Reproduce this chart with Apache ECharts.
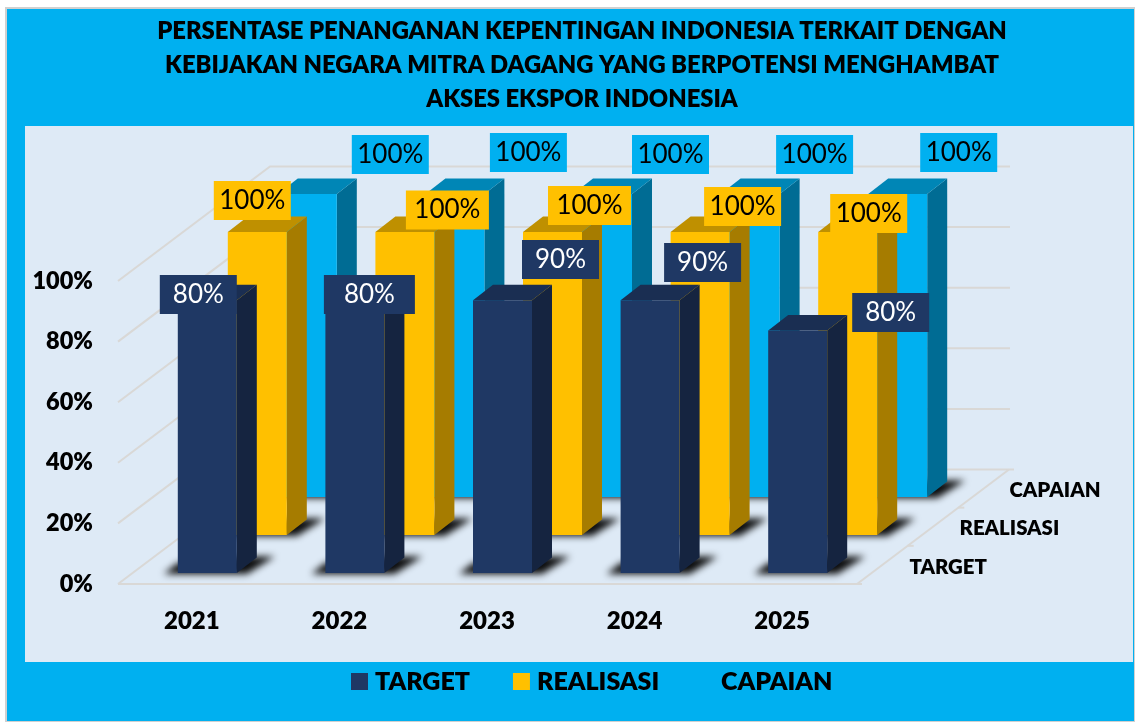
<!DOCTYPE html>
<html><head><meta charset="utf-8">
<style>html,body{margin:0;padding:0;background:#fff}#c{width:1135px;height:722px}</style>
<script src="https://cdn.jsdelivr.net/npm/echarts@6/dist/echarts.min.js"></script>
</head><body><div id="c"></div>
<script>
const years = ['2021','2022','2023','2024','2025'];
const yTicks = [0,20,40,60,80,100];
const rowNames = ['TARGET','REALISASI','CAPAIAN'];
// bar heights as drawn in the picture
const targetBars = [90,90,90,90,80];
const realisasiBars = [100,100,100,100,100];
const capaianBars = [100,100,100,100,100];
// printed values on the data labels
const targetLabels = ['80%','80%','90%','90%','80%'];
const realisasiLabels = ['100%','100%','100%','100%','100%'];
const capaianLabels = ['100%','100%','100%','100%','100%'];
const titleText = 'PERSENTASE PENANGANAN KEPENTINGAN INDONESIA TERKAIT DENGAN\nKEBIJAKAN NEGARA MITRA DAGANG YANG BERPOTENSI MENGHAMBAT\nAKSES EKSPOR INDONESIA';

// label box placement relative to the top of each value (hand placed in the original)
const targetLabelOff = [[6.5,-16.8,77],[30,-16.8,91],[73.5,-51.8,77],[68,-48.8,77],[108.5,-29.1,77]];
const realisasiLabelOff = [[60.5,-80.5,77],[108,-71,83],[102.5,-75.5,83],[108,-74.5,77],[86.5,-67.5,77]];
const capaianLabelOff = [[198.5,-126.5,77],[189,-128.5,77],[183.5,-126.5,77],[180,-126.5,77],[176.5,-128.5,77]];

const FONT = 'Lato';
const HEAVY = 800;
const BAR_W = 59, BAR_DX = 20, BAR_DY = -15.5;
const ROW_DX = 50, ROW_DY = -38, ROW0_DX = 15.5, ROW0_DY = -11;
const WALL_DX = 152, WALL_DY = -114.5;
const WALL_COL = '#D9D8D6';
const FAR = 3000;

function poly(points, fill, extra) {
  return Object.assign({type:'polygon', shape:{points}, style:Object.assign({fill}, extra||{})});
}

function barRenderer(row, labels, offs, cols, labelText) {
  return function (params, api) {
    const i = api.value(0), v = api.value(1);
    const top = api.coord([i, v]), base = api.coord([i, 0]);
    const cx = top[0] + ROW0_DX + ROW_DX * row;
    const shift = ROW0_DY + ROW_DY * row;
    const x0 = cx - BAR_W / 2, x1 = cx + BAR_W / 2;
    const yt = top[1] + shift, yb = base[1] + shift;
    const off = offs[i];
    const lx = top[0] + off[0], ly = top[1] + off[1];
    const shadowPts = [[x0-14,yb+1],[x1+10,yb+1],[x1+BAR_DX+18,yb+BAR_DY-1],[x1,yb+BAR_DY-1],[x0,yb-10]]
      .map(p => [p[0]-FAR, p[1]]);
    return {type:'group', children:[
      poly(shadowPts, '#000', {shadowBlur:7, shadowColor:'rgba(0,0,0,0.95)', shadowOffsetX:FAR}),
      poly([[x1,yt],[x1+BAR_DX,yt+BAR_DY],[x1+BAR_DX,yb+BAR_DY],[x1,yb]], cols.side),
      poly([[x0,yt],[x0+BAR_DX,yt+BAR_DY],[x1+BAR_DX,yt+BAR_DY],[x1,yt]], cols.top),
      {type:'rect', shape:{x:x0,y:yt,width:BAR_W,height:yb-yt}, style:{fill:cols.front}},
      {type:'rect', shape:{x:lx-off[2]/2,y:ly-19.5,width:off[2],height:39}, style:{fill:cols.front}},
      {type:'text', x:lx, y:ly, style:{text:labels[i], fill:labelText, font:'400 26px '+FONT, align:'center', verticalAlign:'middle'}}
    ]};
  };
}

const wallSeries = {
  type:'custom', name:'wall', coordinateSystem:'cartesian2d', silent:true, z:1,
  data: yTicks.map(t => [0, t]),
  encode:{x:0, y:1},
  renderItem(params, api) {
    const cs = params.coordSys;
    const p = api.coord([0, api.value(1)]);
    const y = p[1], x = cs.x, r = cs.x + cs.width;
    const ls = {stroke:WALL_COL, lineWidth:2, fill:'none'};
    const isFloor = api.value(1) === 0;
    const kids = [
      {type:'polyline', shape:{points:[[x,y],[x+WALL_DX,y+WALL_DY],[r+WALL_DX+(isFloor?6:2),y+WALL_DY]]}, style:ls}
    ];
    if (isFloor) {
      kids.push({type:'polyline', shape:{points:[[x,y],[r+6,y]]}, style:ls});
      kids.push({type:'polyline', shape:{points:[[r+1,y],[r+WALL_DX+1,y+WALL_DY]]}, style:ls});
      [1,2].forEach(k => {
        const tx = r + 1 + k * WALL_DX / 3, ty = y + k * WALL_DY / 3;
        kids.push({type:'polyline', shape:{points:[[tx,ty],[tx+6,ty]]}, style:ls});
      });
      rowNames.forEach((n, k) => {
        kids.push({type:'text', x:r + 53.5 + k * ROW_DX, y:y - 17 - k * 38.5,
          style:{text:n, fill:'#000', font:HEAVY+' 20.4px '+FONT, align:'left', verticalAlign:'middle'}});
      });
    }
    return {type:'group', children:kids};
  }
};

function barSeries(name, row, vals, labels, offs, cols, labelText) {
  return {
    type:'custom', name, coordinateSystem:'cartesian2d', z:2 + (2 - row),
    itemStyle:{color:cols.front},
    data: vals.map((v, i) => [i, v]),
    encode:{x:0, y:1},
    renderItem: barRenderer(row, labels, offs, cols, labelText)
  };
}

const legendBase = {
  top:669, orient:'horizontal', icon:'rect', itemWidth:17, itemHeight:17, padding:0, selectedMode:false,
  textStyle:{fontFamily:FONT, fontWeight:HEAVY, fontSize:25, color:'#000', padding:[0,0,0,2]}
};

const chart = echarts.init(document.getElementById('c'), null, {renderer:'canvas'});
chart.setOption({
  animation:false,
  backgroundColor:'#ffffff',
  textStyle:{fontFamily:FONT},
  graphic:[
    {type:'rect', z:-3, shape:{x:6,y:8,width:1129,height:714}, style:{fill:'#00B0F0', stroke:'#D0D0D0', lineWidth:2}},
    {type:'rect', z:-2, shape:{x:25,y:126,width:1108,height:536}, style:{fill:'#DEEAF6'}}
  ],
  title:{
    text:titleText, left:577, top:9, textAlign:'center',
    textStyle:{fontFamily:FONT, fontWeight:HEAVY, fontSize:23.8, lineHeight:34, color:'#000'}
  },
  legend:[
    Object.assign({}, legendBase, {data:['TARGET','REALISASI'], left:351, itemGap:43}),
    Object.assign({}, legendBase, {data:['CAPAIAN'], left:697})
  ],
  grid:{left:118, top:281, width:738, height:303, containLabel:false},
  xAxis:{
    type:'category', data:years, boundaryGap:true,
    axisLine:{show:false}, axisTick:{show:false}, splitLine:{show:false},
    axisLabel:{color:'#000', fontFamily:FONT, fontWeight:HEAVY, fontSize:24, margin:25}
  },
  yAxis:{
    type:'value', min:0, max:100, interval:20,
    axisLine:{show:false}, axisTick:{show:false}, splitLine:{show:false},
    axisLabel:{color:'#000', fontFamily:FONT, fontWeight:HEAVY, fontSize:23.5, margin:25, padding:[4,0,0,0], formatter:'{value}%'}
  },
  series:[
    wallSeries,
    barSeries('CAPAIAN', 2, capaianBars, capaianLabels, capaianLabelOff, {front:'#00B0F0', side:'#006C94', top:'#0086B6'}, '#000'),
    barSeries('REALISASI', 1, realisasiBars, realisasiLabels, realisasiLabelOff, {front:'#FFC000', side:'#A67C00', top:'#BF9000'}, '#000'),
    barSeries('TARGET', 0, targetBars, targetLabels, targetLabelOff, {front:'#1F3864', side:'#152440', top:'#1A2E52'}, '#fff')
  ]
});
</script></body></html>
